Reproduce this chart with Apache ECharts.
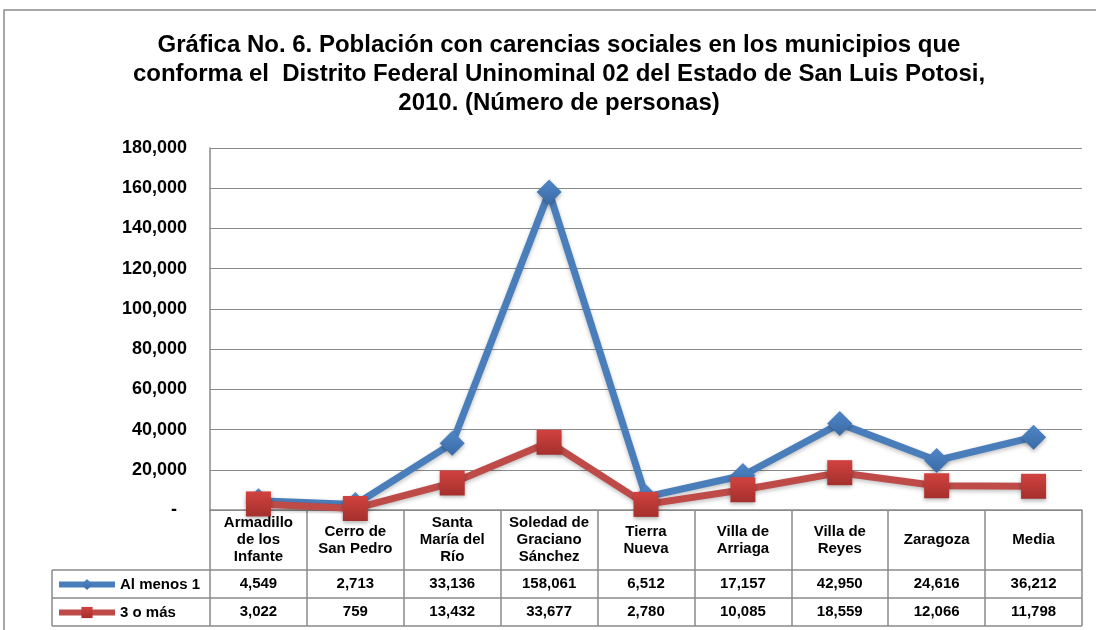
<!DOCTYPE html>
<html>
<head>
<meta charset="utf-8">
<script src="https://cdn.jsdelivr.net/npm/echarts@6/dist/echarts.min.js"></script>
<style>
  html, body { margin: 0; padding: 0; background: #fff; }
  #chart { width: 1096px; height: 630px; }
</style>
</head>
<body>
<div id="chart"></div>
<script>
const municipios = [
  'Armadillo\nde los\nInfante', 'Cerro de\nSan Pedro', 'Santa\nMaría del\nRío',
  'Soledad de\nGraciano\nSánchez', 'Tierra\nNueva', 'Villa de\nArriaga',
  'Villa de\nReyes', 'Zaragoza', 'Media'
];
const alMenos1 = [4549, 2713, 33136, 158061, 6512, 17157, 42950, 24616, 36212];
const tresOMas = [3022, 759, 13432, 33677, 2780, 10085, 18559, 12066, 11798];
const yTicks = [0, 20000, 40000, 60000, 80000, 100000, 120000, 140000, 160000, 180000];

const fmt = v => v.toLocaleString('en-US');

// layout of plot + data table
const G = { left: 210, right: 1082, top: 148, bottom: 510 };
const tableLeft = 52;
const rowHeader = 570, row1 = 598, row2 = 626;
const gridColor = '#8a8a8a';
const blue = '#4a7ebb';
const red = '#be4b48';
const font = 'Arial, Liberation Sans';

const chart = echarts.init(document.getElementById('chart'));

const valueAxis = (data, offset) => ({
  type: 'category',
  data: data.map(fmt),
  position: 'bottom',
  offset: offset,
  axisLine: { show: false },
  axisTick: { show: false },
  splitLine: { show: false },
  axisLabel: {
    margin: 0, verticalAlign: 'middle', interval: 0,
    fontFamily: font, fontWeight: 'bold', fontSize: 15, color: '#000'
  }
});

chart.setOption({
  animation: false,
  backgroundColor: '#fff',
  title: {
    text: 'Gráfica No. 6. Población con carencias sociales en los municipios que\nconforma el  Distrito Federal Uninominal 02 del Estado de San Luis Potosi,\n2010. (Número de personas)',
    left: 554,
    textAlign: 'center',
    top: 26,
    padding: 5,
    textStyle: {
      fontFamily: font, fontWeight: 'bold', fontSize: 24,
      lineHeight: 29, color: '#000'
    }
  },
  legend: {
    orient: 'vertical',
    left: tableLeft + 4,
    top: rowHeader + 7,
    padding: 0,
    itemWidth: 56,
    itemHeight: 14,
    itemGap: 13,
    lineStyle: { width: 6 },
    textStyle: { fontFamily: font, fontWeight: 'bold', fontSize: 15, color: '#000' },
    data: ['Al menos 1', '3 o más']
  },
  grid: {
    left: G.left, right: 1096 - G.right, top: G.top, bottom: 630 - G.bottom,
    containLabel: false
  },
  xAxis: [
    {
      type: 'category',
      data: municipios,
      boundaryGap: true,
      axisLine: { lineStyle: { color: gridColor, width: 1.5 } },
      axisTick: { show: true, length: row2 - G.bottom, lineStyle: { color: gridColor, width: 1.5 } },
      axisLabel: {
        interval: 0, margin: 30, verticalAlign: 'middle', lineHeight: 17,
        fontFamily: font, fontWeight: 'bold', fontSize: 15, color: '#000'
      }
    },
    valueAxis(alMenos1, (rowHeader + row1) / 2 - G.bottom),
    valueAxis(tresOMas, (row1 + row2) / 2 - G.bottom)
  ],
  yAxis: {
    type: 'value',
    min: yTicks[0],
    max: yTicks[yTicks.length - 1],
    interval: yTicks[1] - yTicks[0],
    axisLine: { show: true, lineStyle: { color: gridColor, width: 1.5 } },
    axisTick: { show: false },
    splitLine: { lineStyle: { color: gridColor, width: 1.2 } },
    axisLabel: {
      margin: 23,
      fontFamily: font, fontWeight: 'bold', fontSize: 18, color: '#000',
      formatter: v => v === 0 ? '-  ' : fmt(v)
    }
  },
  series: [
    {
      name: 'Al menos 1',
      type: 'line',
      data: alMenos1,
      symbol: 'diamond',
      symbolSize: 25,
      lineStyle: { color: blue, width: 7, shadowColor: 'rgba(0,0,0,0.25)', shadowBlur: 4, shadowOffsetY: 2 },
      itemStyle: {
        color: new echarts.graphic.LinearGradient(0, 0, 0, 1, [
          { offset: 0, color: '#4f86c6' }, { offset: 1, color: '#3a6aa6' }
        ]),
        borderWidth: 0,
        shadowColor: 'rgba(0,0,0,0.3)', shadowBlur: 4, shadowOffsetY: 2
      },
      z: 3
    },
    {
      name: '3 o más',
      type: 'line',
      data: tresOMas,
      symbol: 'rect',
      symbolSize: 25,
      lineStyle: { color: red, width: 7, shadowColor: 'rgba(0,0,0,0.25)', shadowBlur: 4, shadowOffsetY: 2 },
      itemStyle: {
        color: new echarts.graphic.LinearGradient(0, 0, 0, 1, [
          { offset: 0, color: '#d2423f' }, { offset: 1, color: '#a4302d' }
        ]),
        borderWidth: 0,
        shadowColor: 'rgba(0,0,0,0.3)', shadowBlur: 4, shadowOffsetY: 2
      },
      z: 4
    }
  ],
  graphic: [
    {
      type: 'rect', silent: true,
      shape: { x: 4, y: 10, width: 1100, height: 640 },
      style: { fill: 'none', stroke: '#8a8a8a', lineWidth: 1.5 }
    },
    {
      type: 'line', silent: true,
      shape: { x1: tableLeft, y1: rowHeader, x2: G.right, y2: rowHeader },
      style: { stroke: gridColor, lineWidth: 1.5 }
    },
    {
      type: 'line', silent: true,
      shape: { x1: tableLeft, y1: row1, x2: G.right, y2: row1 },
      style: { stroke: gridColor, lineWidth: 1.5 }
    },
    {
      type: 'line', silent: true,
      shape: { x1: tableLeft, y1: row2, x2: G.right, y2: row2 },
      style: { stroke: gridColor, lineWidth: 1.5 }
    },
    {
      type: 'line', silent: true,
      shape: { x1: tableLeft, y1: rowHeader, x2: tableLeft, y2: row2 },
      style: { stroke: gridColor, lineWidth: 1.5 }
    }
  ]
});
</script>
</body>
</html>
